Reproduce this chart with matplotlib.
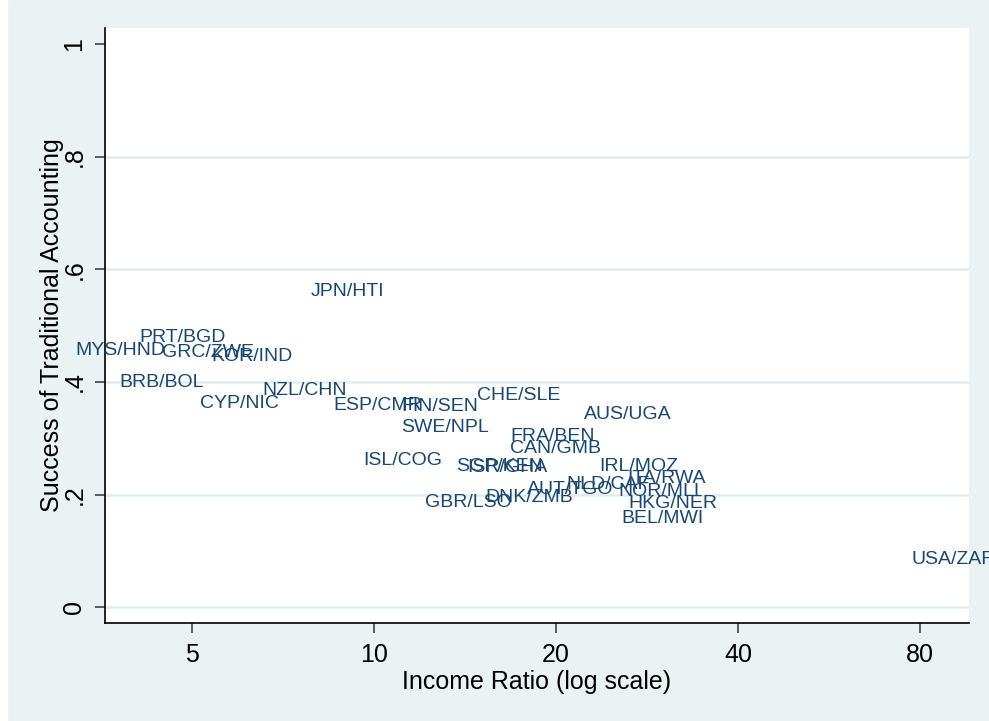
import matplotlib
matplotlib.use("Agg")
import matplotlib.pyplot as plt
from matplotlib.patches import Rectangle

plt.rcParams["font.family"] = ["Liberation Sans", "DejaVu Sans"]

BG = "#EAF2F3"
NAVY = "#1A476F"
GRID = "#E3ECEE"

# country pair labels, income ratio, success of traditional accounting
pairs = [
    "JPN/HTI", "PRT/BGD", "MYS/HND", "GRC/ZWE", "KOR/IND", "BRB/BOL",
    "NZL/CHN", "CYP/NIC", "ESP/CMR", "FIN/SEN", "CHE/SLE", "SWE/NPL",
    "AUS/UGA", "FRA/BEN", "CAN/GMB", "ISL/COG", "SGP/KEN", "ISR/GHA",
    "GBR/LSO", "DNK/ZMB", "AUT/TGO", "NLD/CAF", "IRL/MOZ", "ITA/RWA",
    "NOR/MLI", "HKG/NER", "BEL/MWI", "USA/ZAF",
]
income_ratio = [
    9.03, 4.81, 3.80, 5.31, 6.28, 4.45,
    7.66, 5.98, 10.13, 12.85, 17.33, 13.12,
    26.3, 19.77, 19.94, 11.14, 16.14, 16.6,
    14.34, 18.09, 21.07, 24.39, 27.38, 30.44,
    29.65, 31.2, 30.04, 90.6,
]
success = [
    0.565, 0.483, 0.460, 0.455, 0.448, 0.403,
    0.389, 0.365, 0.362, 0.360, 0.379, 0.323,
    0.345, 0.307, 0.286, 0.2645, 0.253, 0.252,
    0.190, 0.199, 0.213, 0.222, 0.254, 0.2325,
    0.209, 0.1875, 0.1615, 0.0875,
]

x_ticks = [5, 10, 20, 40, 80]
y_ticks = [0, 0.2, 0.4, 0.6, 0.8, 1]
y_tick_labels = ["0", ".2", ".4", ".6", ".8", "1"]

fig = plt.figure(figsize=(9.89, 7.21), dpi=100, facecolor=BG)
fig.patches.append(Rectangle((0, 0), 7 / 989, 1, transform=fig.transFigure,
                             color="white", zorder=0))
ax = fig.add_axes([105 / 989, 98 / 721, 864 / 989, 595 / 721])
ax.set_facecolor("white")

ax.set_xscale("log", base=2)
ax.set_xlim(3.585, 96.5)
ax.set_ylim(-0.0279, 1.0284)

# stata style: grid at every label except the top one
for yv in y_ticks[:-1]:
    ax.axhline(yv, color=GRID, lw=1.8, zorder=0)

for name, xv, yv in zip(pairs, income_ratio, success):
    ax.text(xv, yv, name, ha="center", va="center_baseline", fontsize=14,
            color=NAVY, clip_on=False, zorder=3)

ax.set_xticks(x_ticks)
ax.set_xticklabels([str(t) for t in x_ticks])
ax.minorticks_off()
ax.set_yticks(y_ticks)
ax.set_yticklabels(y_tick_labels, rotation=90, va="center")

ax.tick_params(axis="both", direction="out", length=7.5, width=1.2,
               color="#444444", labelsize=18, labelcolor="black")
ax.tick_params(axis="x", pad=7)
ax.tick_params(axis="y", pad=6)

for side in ["top", "right"]:
    ax.spines[side].set_visible(False)
for side in ["left", "bottom"]:
    ax.spines[side].set_color("black")
    ax.spines[side].set_linewidth(1.2)

ax.set_xlabel("Income Ratio (log scale)", fontsize=18, labelpad=2)
ax.set_ylabel("Success of Traditional Accounting", fontsize=18, labelpad=-1)

fig.savefig("out.png", dpi=100, facecolor=fig.get_facecolor())
